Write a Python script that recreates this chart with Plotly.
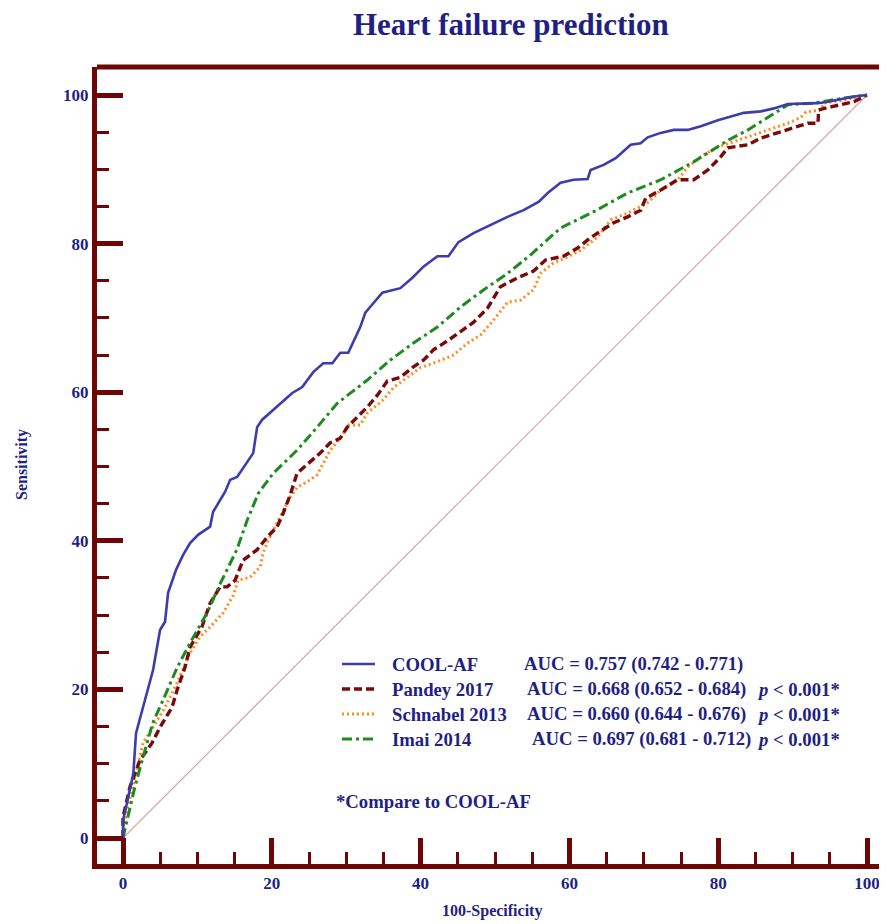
import plotly.graph_objects as go

# ---------------- data ----------------
cool_x = [0, 0, 0.27, 1.39, 1.75, 2.52, 2.96, 3.36, 4.04, 4.98, 5.65, 6.06, 7.13, 8.08, 9.02, 10.09,
          11.71, 12.11, 12.79, 13.73, 14.40, 15.34, 17.50, 18.03, 18.71, 22.75, 24.09, 25.57, 26.92,
          28.13, 29.21, 30.28, 31.90, 32.57, 33.24, 34.86, 37.28, 38.90, 40.38, 42.26, 43.74, 45.09,
          47.11, 49.39, 51.68, 53.84, 55.85, 57.20, 58.82, 60.57, 62.45, 62.85, 64.60, 66.22, 68.24,
          69.58, 70.52, 72.27, 74.02, 75.91, 77.66, 79.95, 82.37, 83.45, 85.73, 87.48, 89.37, 91.12,
          93.41, 94.75, 96.50, 98.25, 100]
cool_y = [0, 2.4, 3.5, 8.7, 14.1, 17.0, 18.6, 20.2, 22.6, 28.0, 29.1, 33.0, 36.1, 38.1, 39.7, 40.8,
          41.9, 43.9, 45.1, 46.6, 48.2, 48.6, 51.8, 55.3, 56.3, 59.9, 60.7, 62.7, 63.9,
          63.9, 65.3, 65.3, 68.8, 70.7, 71.5, 73.4, 74.0, 75.4, 76.9, 78.3, 78.3, 80.2,
          81.4, 82.5, 83.6, 84.5, 85.6, 86.9, 88.2, 88.6, 88.7, 89.9, 90.6, 91.5, 93.3,
          93.5, 94.3, 94.9, 95.3, 95.3, 95.8, 96.6, 97.3, 97.6, 97.8, 98.2, 98.8, 98.8,
          98.9, 99.1, 99.5, 99.8, 100]

pandey_x = [0, 0, 0.94, 2.29, 3.90, 4.98, 6.59, 7.27, 8.34, 9.02, 10.36, 10.6, 11.71, 13.06, 14.0,
            15.07, 16.15, 18.03, 19.38, 20.73, 21.53, 22.48, 23.4, 25.17, 26.5, 27.86, 29.2, 30.15,
            31.5, 32.84, 34.19, 35.53, 37.28, 39.03, 40.38, 41.72, 43.6, 45.36, 47.1, 48.99, 50.74,
            53.03, 55.18, 56.8, 59.2, 61.1, 62.85, 64.2, 65.95, 67.83, 69.58, 70.26, 72.27, 74.56,
            76.72, 78.6, 80.35, 81.29, 83.98, 85.73, 89.37, 92.06, 93.41, 93.5, 95.15, 98.25, 100]
pandey_y = [0, 2.8, 6.9, 10.5, 12.8, 14.9, 17.6, 19.9, 23.0, 25.7, 28.0, 28.4, 31.6, 33.8, 33.8,
            34.7, 37.4, 38.8, 40.5, 41.9, 43.7, 46.2, 49.1, 50.6, 51.8, 53.2, 53.8, 55.3,
            56.7, 58.0, 59.6, 61.5, 62.0, 63.4, 64.3, 65.7, 66.9, 68.1, 69.4, 71.3, 74.2,
            75.4, 76.3, 77.8, 78.3, 79.4, 80.8, 81.7, 82.8, 83.6, 84.5, 86.1, 87.2, 88.6,
            88.6, 89.9, 91.7, 92.9, 93.3, 94.2, 95.3, 96.2, 96.2, 98.0, 98.4, 99.1, 100]

schnabel_x = [0, 0, 0.67, 1.88, 2.69, 4.04, 5.65, 7.27, 9.02, 10.36, 11.71, 13.46, 14.8, 15.48,
              17.09, 18.44, 18.84, 19.52, 20.73, 21.53, 22.48, 23.42, 25.17, 26.1, 26.92, 27.86,
              29.2, 30.28, 31.9, 32.84, 34.99, 36.34, 38.22, 39.97, 42.26, 44.41, 46.3, 48.05,
              49.8, 51.68, 53.43, 55.18, 56.12, 57.87, 59.76, 61.51, 63.8, 65.55, 67.83, 70.52,
              72.27, 74.56, 75.91, 77.66, 79.95, 82.64, 85.73, 89.37, 91.12, 91.79, 93.8, 94.21,
              96.9, 100]
schnabel_y = [0, 1.1, 4.2, 9.2, 12.8, 14.9, 17.6, 20.9, 24.9, 27.1, 28.4, 30.3, 32.6, 34.7,
              35.1, 36.5, 38.4, 40.1, 42.4, 44.1, 45.9, 47.2, 48.2, 48.9, 50.5, 52.2,
              53.8, 55.6, 55.6, 57.2, 59.0, 60.6, 62.0, 63.3, 64.1, 65.0, 66.6, 67.7,
              69.7, 72.1, 72.4, 73.8, 76.0, 77.4, 78.2, 79.1, 80.9, 83.2, 84.1, 85.5,
              87.2, 88.6, 90.3, 91.7, 93.0, 93.9, 95.0, 96.2, 97.0, 97.7, 98.0, 98.9,
              99.3, 100]

imai_x = [0, 0.27, 1.6, 2.7, 4.0, 5.4, 7.3, 9.0, 11.3, 13.1, 15.3, 16.7, 18.2, 20.2, 23.4, 26.1,
          28.8, 30.6, 32.8, 35.9, 39.0, 42.3, 45.4, 48.5, 51.7, 54.8, 58.8, 63.3, 67.8, 72.3,
          76.7, 81.3, 84.0, 86.7, 89.4, 92.9, 96.9, 100]
imai_y = [0, 1.1, 6.9, 10.9, 15.5, 18.6, 23.0, 26.2, 30.3, 34.3, 38.8, 42.8, 46.4, 49.1, 52.2, 55.3,
          58.5, 59.9, 61.6, 64.3, 66.6, 68.8, 71.5, 73.8, 76.0, 78.5, 82.1, 84.3, 86.8, 88.6,
          91.0, 93.9, 95.3, 97.0, 98.7, 98.9, 99.6, 100]

ref_x = [0, 100]
ref_y = [0, 100]

model_names = ["COOL-AF", "Pandey 2017", "Schnabel 2013", "Imai 2014"]
auc_texts = ["AUC = 0.757 (0.742 - 0.771)", "AUC = 0.668 (0.652 - 0.684)",
             "AUC = 0.660 (0.644 - 0.676)", "AUC = 0.697 (0.681 - 0.712)"]
p_texts = ["", "<i>p</i> < 0.001*", "<i>p</i> < 0.001*", "<i>p</i> < 0.001*"]
footnote = "*Compare to COOL-AF"
title_text = "Heart failure prediction"
x_title = "100-Specificity"
y_title = "Sensitivity"

# ---------------- styling ----------------
W, H = 887, 924
OFF = 8  # page body margin offset
# target plot area on screen: x 97..887, y 67..864
ML, MT = 97 - OFF, 67 - OFF
MR = W - (887 - OFF)
MB = H - (864 - OFF)
AXIS = "#6e0606"
NAVY = "#1f1f85"
FONT = "Liberation Serif, Times New Roman, serif"

colors = ["#3c3cad", "#7a0a0a", "#ff8a1e", "#1f8a1f"]
dashes = ["solid", "8px,4px", "2px,3px", "10px,4px,3px,4px"]
widths = [2.6, 3.4, 3.0, 3.0]

PW = 887 - 97
PH = 864 - 67

def px_x(p):  # screen pixel -> paper
    return (p - 97) / PW

def px_y(p):
    return (864 - p) / PH

fig = go.Figure()
fig.add_trace(go.Scatter(x=ref_x, y=ref_y, mode="lines",
                         line=dict(color="#d8a4a4", width=1.2), hoverinfo="skip"))
series = [(cool_x, cool_y), (pandey_x, pandey_y), (schnabel_x, schnabel_y), (imai_x, imai_y)]
for i in [2, 1, 3, 0]:
    sx, sy = series[i]
    fig.add_trace(go.Scatter(x=sx, y=sy, mode="lines", name=model_names[i],
                             line=dict(color=colors[i], width=widths[i], dash=dashes[i])))

# x/y ranges: 0 at screen px 123 / 838, 100 at px 867 / 95
xr = [(97 - 123) / 7.44, (887 - 123) / 7.44]
yr = [-(864 - 838) / 7.43, (838 - 67) / 7.43]

tickfont = dict(family=FONT, size=17, color=NAVY, weight="bold")
axis_common = dict(
    showgrid=False, zeroline=False, showline=True, linecolor=AXIS, linewidth=5,
    ticks="inside", ticklen=26, tickwidth=5, tickcolor=AXIS, tick0=0, dtick=20,
    tickfont=tickfont,
    minor=dict(ticks="inside", ticklen=12, tickwidth=3, tickcolor=AXIS, dtick=5, tick0=0, showgrid=False),
)
fig.update_xaxes(range=xr, **axis_common)
fig.update_yaxes(range=yr, **axis_common)

shapes = [dict(type="line", xref="paper", yref="paper", x0=0, x1=1, y0=1, y1=1,
               line=dict(color=AXIS, width=5))]
annotations = [
    dict(text=f"<b>{title_text}</b>", xref="paper", yref="paper", x=px_x(511), y=px_y(25),
         showarrow=False, font=dict(family=FONT, size=31, color=NAVY), xanchor="center", yanchor="middle"),
    dict(text=f"<b>{x_title}</b>", xref="paper", yref="paper", x=px_x(492), y=px_y(911),
         showarrow=False, font=dict(family=FONT, size=16, color=NAVY), xanchor="center", yanchor="middle"),
    dict(text=f"<b>{y_title}</b>", xref="paper", yref="paper", x=px_x(22), y=px_y(465),
         showarrow=False, textangle=-90, font=dict(family=FONT, size=16, color=NAVY),
         xanchor="center", yanchor="middle"),
]

row_y = [664, 689, 714, 739]
auc_x = [522, 525, 525, 530]
leg_font = dict(family=FONT, size=18.7, color=NAVY)
for i in range(4):
    shapes.append(dict(type="line", xref="paper", yref="paper",
                       x0=px_x(342), x1=px_x(375), y0=px_y(row_y[i]), y1=px_y(row_y[i]),
                       line=dict(color=colors[i], width=widths[i], dash=dashes[i])))
    annotations.append(dict(text=f"<b>{model_names[i]}</b>", xref="paper", yref="paper",
                            x=px_x(390), y=px_y(row_y[i]), showarrow=False, font=leg_font,
                            xanchor="left", yanchor="middle"))
    annotations.append(dict(text=f"<b>{auc_texts[i]}</b>", xref="paper", yref="paper",
                            x=px_x(auc_x[i]), y=px_y(row_y[i]), showarrow=False, font=leg_font,
                            xanchor="left", yanchor="middle"))
    if p_texts[i]:
        annotations.append(dict(text=f"<b>{p_texts[i]}</b>", xref="paper", yref="paper",
                                x=px_x(755), y=px_y(row_y[i]), showarrow=False, font=leg_font,
                                xanchor="left", yanchor="middle"))
annotations.append(dict(text=f"<b>{footnote}</b>", xref="paper", yref="paper",
                        x=px_x(334), y=px_y(801), showarrow=False, font=leg_font,
                        xanchor="left", yanchor="middle"))

fig.update_layout(
    width=W, height=H, margin=dict(l=ML, r=MR, t=MT, b=MB),
    paper_bgcolor="white", plot_bgcolor="white", showlegend=False,
    shapes=shapes, annotations=annotations,
)
fig.write_html("out.html")
